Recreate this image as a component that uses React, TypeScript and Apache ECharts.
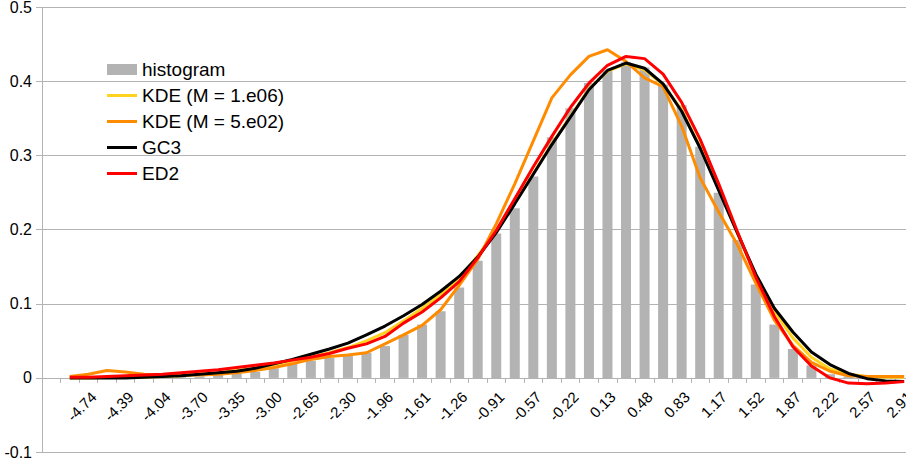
import React, { useEffect, useRef } from "react";
import * as echarts from "echarts";

// category labels (bin centres); index 0 is an empty leading bin
const categories = [
  "-5.09", "-4.91", "-4.74", "-4.57", "-4.39", "-4.22", "-4.04", "-3.87", "-3.70", "-3.52",
  "-3.35", "-3.18", "-3.00", "-2.83", "-2.65", "-2.48", "-2.30", "-2.13", "-1.96", "-1.79",
  "-1.61", "-1.44", "-1.26", "-1.09", "-0.91", "-0.74", "-0.57", "-0.39", "-0.22", "-0.05",
  "0.13", "0.30", "0.48", "0.65", "0.83", "1.00", "1.17", "1.34", "1.52", "1.69",
  "1.87", "2.04", "2.22", "2.39", "2.57", "2.74", "2.91",
];

// values for bins 1..46 (bin 0 has no data)
const histogram = [
  0, 0, 0, 0, 0, 0.001, 0.001, 0.002, 0.004, 0.006,
  0.008, 0.013, 0.02, 0.023, 0.027, 0.031, 0.034, 0.043, 0.058, 0.072,
  0.09, 0.122, 0.158, 0.195, 0.229, 0.272, 0.325, 0.364, 0.398, 0.415,
  0.426, 0.419, 0.396, 0.368, 0.312, 0.25, 0.186, 0.126, 0.072, 0.039,
  0.017, 0.005, 0.002, 0.001, 0, 0,
];

const kde1e06 = [
  0, 0, 0.001, 0.001, 0.001, 0.002, 0.003, 0.005, 0.007, 0.01,
  0.013, 0.018, 0.023, 0.028, 0.034, 0.041, 0.05, 0.061, 0.077, 0.094,
  0.112, 0.135, 0.165, 0.198, 0.236, 0.276, 0.316, 0.353, 0.39, 0.414,
  0.424, 0.416, 0.396, 0.362, 0.312, 0.255, 0.196, 0.137, 0.09, 0.054,
  0.028, 0.012, 0.005, 0.002, 0.001, 0.001,
];

const kde5e02 = [
  0.002, 0.005, 0.01, 0.008, 0.005, 0.004, 0.004, 0.004, 0.005, 0.007,
  0.01, 0.014, 0.019, 0.025, 0.029, 0.031, 0.034, 0.046, 0.058, 0.071,
  0.092, 0.125, 0.16, 0.208, 0.262, 0.32, 0.378, 0.409, 0.434, 0.443,
  0.427, 0.405, 0.393, 0.34, 0.27, 0.224, 0.18, 0.128, 0.078, 0.044,
  0.021, 0.009, 0.003, 0.002, 0.002, 0.002,
];

const gc3 = [
  0, 0, 0, 0, 0.001, 0.002, 0.003, 0.005, 0.007, 0.009,
  0.013, 0.019, 0.025, 0.032, 0.039, 0.047, 0.058, 0.07, 0.084, 0.099,
  0.117, 0.137, 0.163, 0.196, 0.235, 0.275, 0.315, 0.352, 0.389, 0.415,
  0.425, 0.418, 0.397, 0.36, 0.31, 0.253, 0.196, 0.14, 0.094, 0.062,
  0.035, 0.018, 0.006, -0.001, -0.004, -0.005,
];

const ed2 = [
  0.001, 0.001, 0.002, 0.003, 0.004, 0.005, 0.007, 0.009, 0.011, 0.014,
  0.017, 0.02, 0.024, 0.028, 0.033, 0.04, 0.046, 0.056, 0.074, 0.089,
  0.108, 0.13, 0.162, 0.199, 0.242, 0.285, 0.326, 0.365, 0.398, 0.422,
  0.434, 0.431, 0.41, 0.372, 0.322, 0.262, 0.198, 0.136, 0.083, 0.042,
  0.016, 0, -0.007, -0.008, -0.007, -0.005,
];

const withLead = (arr: number[]) => [null, ...arr];

const FONT = "Liberation Sans";
const Y_MIN = -0.1;
const Y_MAX = 0.5;
const GRID_TOP = 7.5;
const GRID_BOTTOM = 16;
const H = 468;
// thin line icon for the legend (bounding box padded to full item height)
const LINE_ICON = "path://M0,4H30V7H0Z M0,0H0.01V0.01H0Z M0,11H0.01V10.99H0Z";

export default function App() {
  const ref = useRef<HTMLDivElement>(null);
  useEffect(() => {
    if (!ref.current) return;
    const chart = echarts.init(ref.current, null, { renderer: "svg" });
    const plotH = H - GRID_TOP - GRID_BOTTOM;
    // move x axis up to value 0
    const zeroOffset = -(plotH * (0 - Y_MIN)) / (Y_MAX - Y_MIN);
    const lineSeries = (name: string, data: number[], color: string) => ({
      name,
      type: "line",
      data: withLead(data),
      symbol: "none",
      showSymbol: false,
      smooth: false,
      lineStyle: { color, width: 3 },
      itemStyle: { color },
      z: 3,
    });
    chart.setOption({
      animation: false,
      backgroundColor: "#ffffff",
      textStyle: { fontFamily: FONT },
      grid: {
        left: 42,
        top: GRID_TOP,
        bottom: GRID_BOTTOM,
        right: -7.4,
        outerBoundsMode: "none",
        containLabel: false,
      },
      legend: {
        orient: "vertical",
        left: 102,
        top: 55,
        itemWidth: 30,
        itemHeight: 11,
        itemGap: 7,
        textStyle: { fontFamily: FONT, fontSize: 19, color: "#000" },
        data: [
          { name: "histogram", icon: "rect" },
          { name: "KDE (M = 1.e06)", icon: LINE_ICON },
          { name: "KDE (M = 5.e02)", icon: LINE_ICON },
          { name: "GC3", icon: LINE_ICON },
          { name: "ED2", icon: LINE_ICON },
        ],
      },
      xAxis: {
        type: "category",
        data: categories,
        boundaryGap: true,
        offset: zeroOffset,
        axisLine: { onZero: false, lineStyle: { color: "#b3b3b3", width: 1 } },
        axisTick: { show: true, interval: 0, length: 5, lineStyle: { color: "#b3b3b3" } },
        axisLabel: {
          interval: (i: number) => i >= 2 && i % 2 === 0,
          rotate: 45,
          align: "right",
          verticalAlign: "top",
          margin: 11,
          fontFamily: FONT,
          fontSize: 15,
          color: "#000",
        },
        splitLine: { show: false },
      },
      yAxis: {
        type: "value",
        min: Y_MIN,
        max: Y_MAX,
        interval: 0.1,
        axisLine: { show: true, lineStyle: { color: "#b3b3b3", width: 1 } },
        axisTick: { show: true, length: 6, lineStyle: { color: "#b3b3b3" } },
        axisLabel: {
          fontFamily: FONT,
          fontSize: 16,
          color: "#000",
          margin: 10,
          formatter: (v: number) => String(Math.round(v * 10) / 10),
        },
        splitLine: { show: true, lineStyle: { color: "#b3b3b3", width: 1 } },
      },
      series: [
        {
          name: "histogram",
          type: "bar",
          data: withLead(histogram),
          barWidth: 10,
          itemStyle: { color: "#b3b3b3" },
          z: 2,
        },
        lineSeries("KDE (M = 1.e06)", kde1e06, "#ffd320"),
        lineSeries("KDE (M = 5.e02)", kde5e02, "#ff8c00"),
        lineSeries("GC3", gc3, "#000000"),
        lineSeries("ED2", ed2, "#ff0000"),
      ],
    });
    return () => chart.dispose();
  }, []);
  return (
    <div
      ref={ref}
      style={{ position: "fixed", left: 0, top: 0, width: 906, height: 468 }}
    />
  );
}
